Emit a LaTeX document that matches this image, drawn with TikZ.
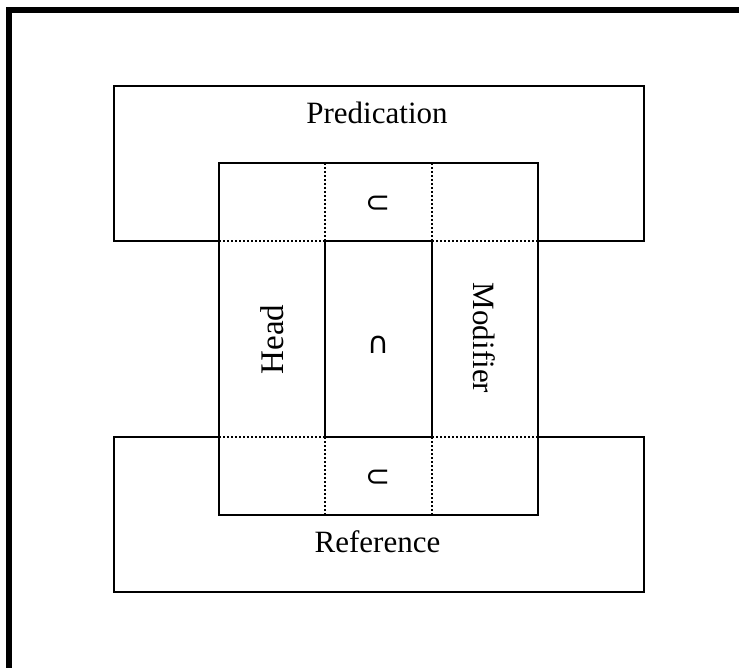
\documentclass[tikz,border=0pt]{standalone}
\usepackage{fontspec}
\setmainfont{Liberation Serif}
\newfontfamily\symfont{DejaVu Sans}
\begin{document}
\begin{tikzpicture}[x=1pt,y=-1pt,
		box/.style={line width=2.7pt},
		sep/.style={line width=2.2pt,dash pattern=on 2pt off 2pt},
		frame/.style={line width=6.5pt},
		lbl/.style={font=\fontsize{31}{36}\selectfont,inner sep=0pt},
		sym/.style={font=\symfont\fontsize{30}{34}\selectfont,inner sep=0pt}]
		\useasboundingbox (0,0) rectangle (739,668);
		\coordinate (P1) at (114,86);
		\coordinate (P2) at (644,241);
		\coordinate (R1) at (114,437);
		\coordinate (R2) at (644,592);
		\coordinate (I1) at (219,163);
		\coordinate (I2) at (538,515);
		\coordinate (C1) at (325,241);
		\coordinate (C2) at (432,437);
		% frame, cut off right and bottom
		\draw[frame] (9,668) |- (739,10);
		% dotted parts inside the middle box
		\draw[sep] (I1 |- C1) -- (C1) (C1 -| C2) -- (C1 -| I2);
		\draw[sep] (I1 |- C2) -- (C1 |- C2) (C2) -- (I2 |- C2);
		\draw[sep] (C1 |- I1) -- (C1) (C2 |- I1) -- (C1 -| C2);
		\draw[sep] (C1 |- C2) -- (C1 |- I2) (C2) -- (C2 |- I2);
		% outer boxes
		\draw[box] (I1 |- P2) -- (P1 |- P2) |- (P2 |- P1) |- (I2 |- P2);
		\draw[box] (I1 |- R1) -- (R1) |- (R2) |- (I2 |- R1);
		\draw[box] (I1) rectangle (I2);
		\draw[box] (C1) rectangle (C2);
		% labels
		\node[lbl,anchor=base] (pred) at (377,124) {Predication};
		\node[lbl,anchor=base] (ref) at (377.5,552) {Reference};
		\node[lbl,anchor=base,rotate=90,font=\fontsize{33}{38}\selectfont] (head) at (283,339.5) {Head};
		\node[lbl,anchor=base,rotate=-90] (mod) at (473,338) {Modifier};
		\node[sym] (subtop) at (378,204) {⊂};
		\node[sym] (cap) at (378,345) {∩};
		\node[sym] (subbot) at (378,478) {⊂};
	\end{tikzpicture}
\end{document}
